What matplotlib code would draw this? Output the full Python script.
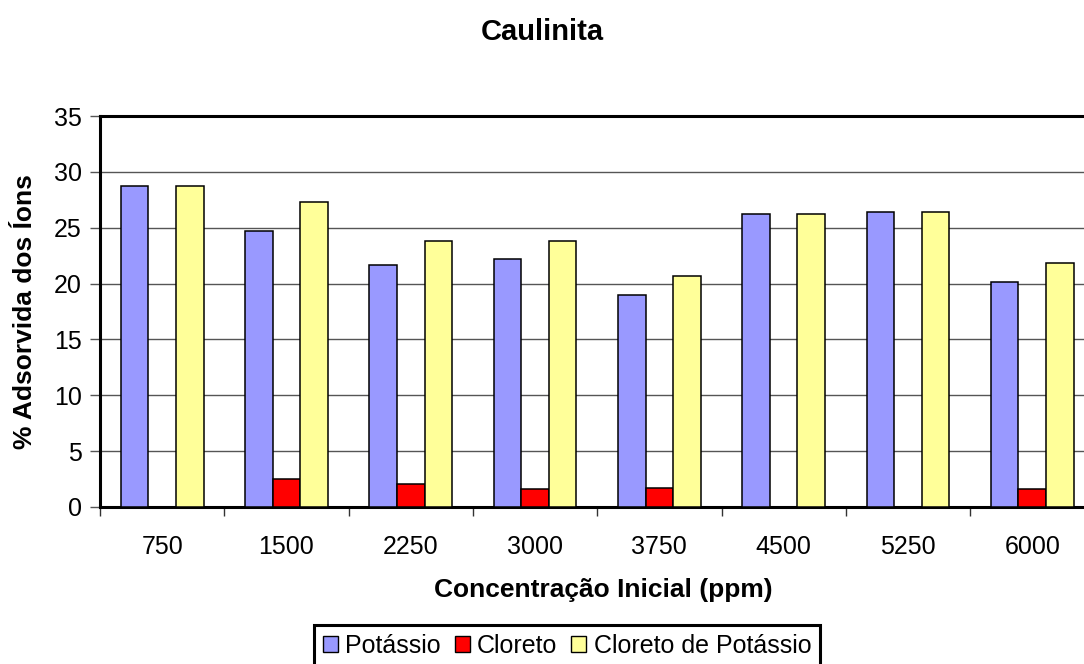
import matplotlib
matplotlib.use("Agg")
import matplotlib.pyplot as plt
from matplotlib.patches import Rectangle
import numpy as np

# Initial concentration (ppm) and percentage of adsorbed ions
concentracoes = ["750", "1500", "2250", "3000", "3750", "4500", "5250", "6000"]
potassio = [28.7, 24.7, 21.7, 22.2, 19.0, 26.2, 26.4, 20.1]
cloreto = [0.0, 2.5, 2.1, 1.6, 1.7, 0.0, 0.0, 1.6]
cloreto_potassio = [28.7, 27.3, 23.8, 23.8, 20.7, 26.2, 26.4, 21.8]
series_nomes = ["Potássio", "Cloreto", "Cloreto de Potássio"]
y_ticks = [0, 5, 10, 15, 20, 25, 30, 35]

plt.rcParams["font.family"] = ["Liberation Sans", "DejaVu Sans"]

W, H = 1084, 664
fig = plt.figure(figsize=(W / 100, H / 100), dpi=100)

# plot area in pixel units: left 100, top 116, bottom 507, 8 categories of ~124.3 px
left, top, bottom = 100, 116, 507
cat_w = 124.3
ax = fig.add_axes([left / W, 1 - bottom / H, 8 * cat_w / W, (bottom - top) / H])

x = np.arange(len(concentracoes))
bw = 0.222
cores = ["#9999FF", "#FF0000", "#FFFF99"]
for k, (vals, cor, nome) in enumerate(zip([potassio, cloreto, cloreto_potassio], cores, series_nomes)):
    ax.bar(x + (k - 1) * bw, vals, width=bw, color=cor, edgecolor="black",
           linewidth=1.1, label=nome, zorder=3)

ax.set_xlim(-0.5, len(concentracoes) - 0.5)
ax.set_ylim(0, 35)
ax.set_yticks(y_ticks)
ax.set_yticklabels([str(v) for v in y_ticks])
ax.set_xticks(x)
ax.set_xticklabels(concentracoes)
ax.set_xticks(np.arange(-0.5, len(concentracoes)), minor=True)

ax.tick_params(axis="x", which="major", length=0, pad=20, labelsize=18)
ax.tick_params(axis="x", which="minor", length=6.5, width=1, color="#333333", direction="out")
ax.tick_params(axis="y", which="major", length=7, width=1, color="#555555",
               direction="out", pad=6, labelsize=18)

for yv in y_ticks[1:-1]:
    ax.axhline(yv, color="#555555", linewidth=1.0, zorder=1)

for side in ["left", "bottom", "top"]:
    ax.spines[side].set_linewidth(2.2)
    ax.spines[side].set_color("black")
ax.spines["right"].set_visible(False)

fig.text(542 / W, 1 - 40 / H, "Caulinita", ha="center", va="baseline",
         fontsize=21, fontweight="bold")
fig.text(603 / W, 1 - 597 / H, "Concentração Inicial (ppm)", ha="center",
         va="baseline", fontsize=19, fontweight="bold")
fig.text(25 / W, 1 - (top + bottom) / 2 / H, "% Adsorvida dos Íons", ha="center",
         va="center", rotation=90, fontsize=19, fontweight="bold")

leg = fig.legend(loc="upper left", bbox_to_anchor=(314 / W, 1 - 625 / H),
                 bbox_transform=fig.transFigure, ncol=3, fontsize=18,
                 frameon=False,
                 handlelength=0.6, handleheight=0.6, handletextpad=0.3,
                 columnspacing=0.55, borderpad=0.35, borderaxespad=0)
for h in leg.legend_handles:
    h.set_linewidth(1.0)

# legend frame: left/right from the legend box, running past the lower edge
fig.canvas.draw()
bb = leg.get_window_extent().transformed(fig.transFigure.inverted())
fig.patches.append(Rectangle((bb.x0, -0.05), bb.width, bb.y1 + 0.05,
                             transform=fig.transFigure, fill=False,
                             edgecolor="black", linewidth=2.2, zorder=5))

fig.savefig("out.png", dpi=100)
